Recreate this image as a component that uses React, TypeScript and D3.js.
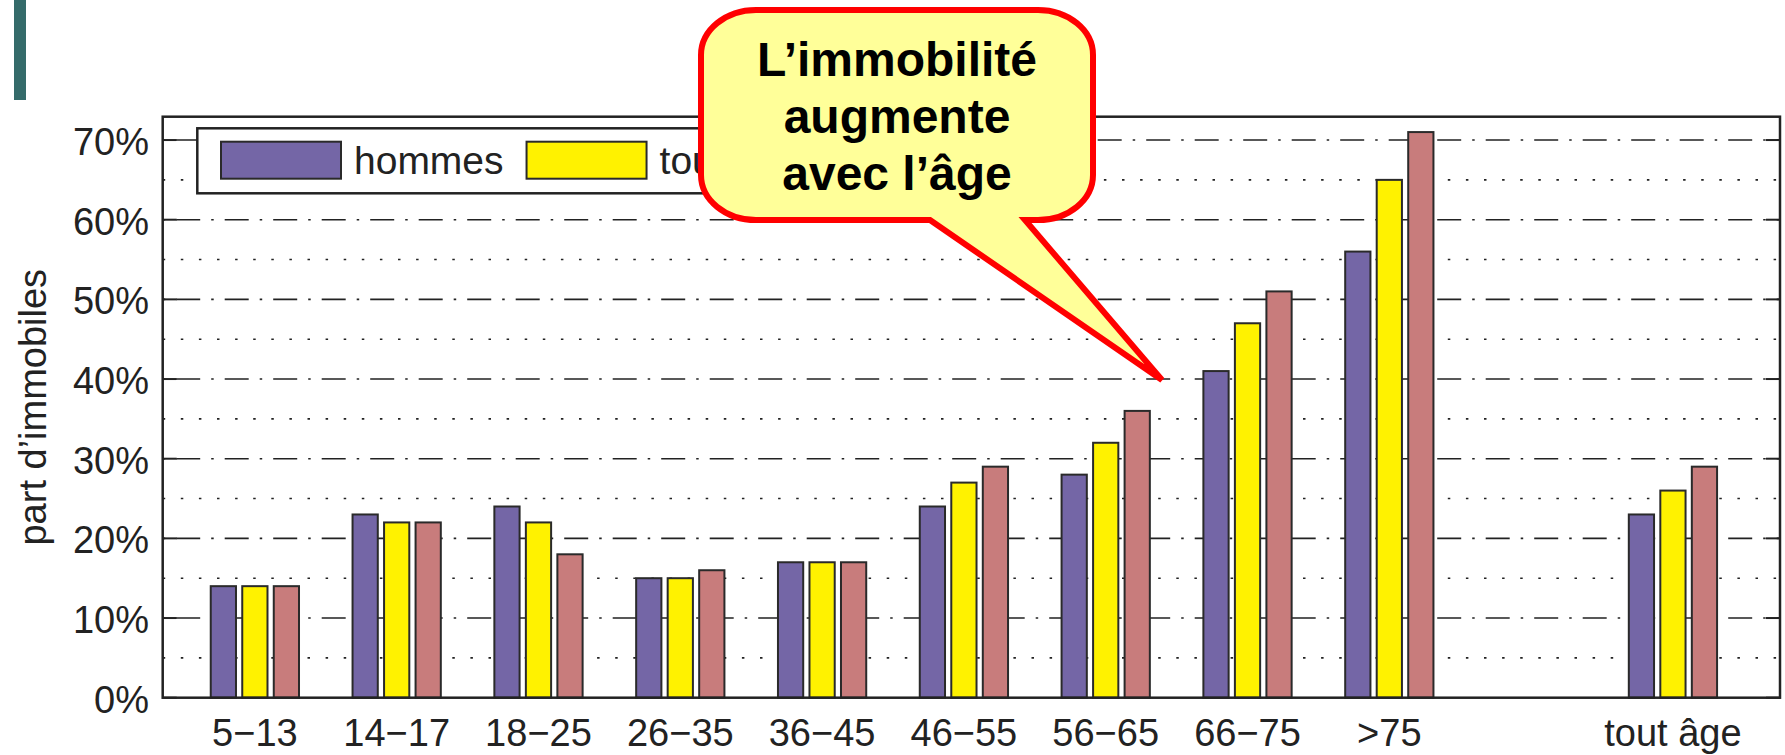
import React, { useRef, useEffect } from "react";
import * as d3 from "d3";

// données (en %)
const categories = ["5−13", "14−17", "18−25", "26−35", "36−45", "46−55", "56−65", "66−75", ">75", "tout âge"];
const positions = [1, 2, 3, 4, 5, 6, 7, 8, 9, 11];
const hommes = [14, 23, 24, 15, 17, 24, 28, 41, 56, 23];
const tous = [14, 22, 22, 15, 17, 27, 32, 47, 65, 26];
const femmes = [14, 22, 18, 16, 17, 29, 36, 51, 71, 29];
// seules les deux premières entrées de la légende sont visibles (la bulle cache le reste)
const legendNames = ["hommes", "tous"];
const yTicks = [0, 10, 20, 30, 40, 50, 60, 70];
const yMinor = [5, 15, 25, 35, 45, 55, 65];

const COLORS = ["#7466A6", "#FFF200", "#C87C7C"];
const WIDTH = 1785;
const HEIGHT = 755;
const PLOT = { left: 162.7, right: 1780, top: 116.7, bottom: 697.7 };
const FONT = "'Liberation Sans', Arial, Helvetica, sans-serif";

export default function App() {
  const svgRef = useRef<SVGSVGElement | null>(null);

  useEffect(() => {
    if (!svgRef.current) return;
    const svg = d3.select(svgRef.current);
    svg.selectAll("*").remove();

    const x = d3.scaleLinear().domain([0.35, 11.755]).range([PLOT.left, PLOT.right]);
    const y = d3.scaleLinear().domain([0, 72.93]).range([PLOT.bottom, PLOT.top]);

    svg.append("rect").attr("width", WIDTH).attr("height", HEIGHT).attr("fill", "#fff");

    // barre décorative en haut à gauche
    svg.append("rect").attr("x", 14).attr("y", 0).attr("width", 12).attr("height", 100).attr("fill", "#346B6A");

    // grille mineure (pointillés)
    svg
      .append("g")
      .selectAll("line")
      .data(yMinor)
      .join("line")
      .attr("x1", PLOT.left)
      .attr("x2", PLOT.right)
      .attr("y1", (d) => y(d))
      .attr("y2", (d) => y(d))
      .attr("stroke", "#222")
      .attr("stroke-width", 1.6)
      .attr("stroke-dasharray", "2.5,15.6");

    // grille majeure (tiret-point)
    svg
      .append("g")
      .selectAll("line")
      .data(yTicks.filter((t) => t > 0))
      .join("line")
      .attr("x1", PLOT.left)
      .attr("x2", PLOT.right)
      .attr("y1", (d) => y(d))
      .attr("y2", (d) => y(d))
      .attr("stroke", "#222")
      .attr("stroke-width", 1.6)
      .attr("stroke-dasharray", "2.5,11,24,11");

    // graduations
    const ticks = svg.append("g").attr("stroke", "#222").attr("stroke-width", 2);
    yTicks.forEach((t) => {
      ticks.append("line").attr("x1", PLOT.left).attr("x2", PLOT.left + 14).attr("y1", y(t)).attr("y2", y(t));
      ticks.append("line").attr("x1", PLOT.right).attr("x2", PLOT.right - 14).attr("y1", y(t)).attr("y2", y(t));
    });
    positions.forEach((p) => {
      ticks.append("line").attr("x1", x(p)).attr("x2", x(p)).attr("y1", PLOT.bottom).attr("y2", PLOT.bottom - 14);
    });

    // barres groupées
    const all = [hommes, tous, femmes];
    const step = 0.2222;
    const bw = 0.178;
    all.forEach((vals, s) => {
      svg
        .append("g")
        .selectAll("rect")
        .data(vals)
        .join("rect")
        .attr("x", (_, i) => x(positions[i] + (s - 1) * step - bw / 2))
        .attr("width", x(bw) - x(0))
        .attr("y", (d) => y(d))
        .attr("height", (d) => y(0) - y(d))
        .attr("fill", COLORS[s])
        .attr("stroke", "#2a2a2a")
        .attr("stroke-width", 2);
    });

    // cadre
    svg
      .append("rect")
      .attr("x", PLOT.left)
      .attr("y", PLOT.top)
      .attr("width", PLOT.right - PLOT.left)
      .attr("height", PLOT.bottom - PLOT.top)
      .attr("fill", "none")
      .attr("stroke", "#222")
      .attr("stroke-width", 2.5);

    // étiquettes Y
    svg
      .append("g")
      .selectAll("text")
      .data(yTicks)
      .join("text")
      .attr("x", 149)
      .attr("y", (d) => y(d) + 15)
      .attr("text-anchor", "end")
      .attr("font-family", FONT)
      .attr("font-size", 38)
      .attr("fill", "#222")
      .text((d) => `${d}%`);

    // étiquettes X
    svg
      .append("g")
      .selectAll("text")
      .data(categories)
      .join("text")
      .attr("x", (_, i) => x(positions[i]))
      .attr("y", 746)
      .attr("text-anchor", "middle")
      .attr("font-family", FONT)
      .attr("font-size", 38)
      .attr("fill", "#222")
      .text((d) => d);

    // titre de l'axe Y
    svg
      .append("text")
      .attr("transform", `translate(46, ${(PLOT.top + PLOT.bottom) / 2}) rotate(-90)`)
      .attr("text-anchor", "middle")
      .attr("font-family", FONT)
      .attr("font-size", 38)
      .attr("fill", "#222")
      .text("part d’immobiles");

    // légende (en partie cachée par la bulle)
    const legend = svg.append("g");
    legend
      .append("rect")
      .attr("x", 197.3)
      .attr("y", 128.3)
      .attr("width", 700)
      .attr("height", 65)
      .attr("fill", "#fff")
      .attr("stroke", "#222")
      .attr("stroke-width", 2.5);
    let lx = 221;
    legendNames.forEach((name, i) => {
      legend
        .append("rect")
        .attr("x", lx)
        .attr("y", 141.7)
        .attr("width", 120)
        .attr("height", 37)
        .attr("fill", COLORS[i])
        .attr("stroke", "#2a2a2a")
        .attr("stroke-width", 2);
      const t = legend
        .append("text")
        .attr("x", lx + 133)
        .attr("y", 174)
        .attr("font-family", FONT)
        .attr("font-size", 39)
        .attr("fill", "#222")
        .text(name);
      const w = (t.node() as SVGTextElement).getComputedTextLength();
      lx = lx + 133 + w + 23;
    });

    // bulle
    const L = 701, R = 1093, T = 10, B = 220, rx = 55, ry = 45;
    const bubble = [
      `M${L + rx},${T}`,
      `H${R - rx}`,
      `A${rx},${ry} 0 0 1 ${R},${T + ry}`,
      `V${B - ry}`,
      `A${rx},${ry} 0 0 1 ${R - rx},${B}`,
      `H1025`,
      `L1162,380`,
      `L930,${B}`,
      `H${L + rx}`,
      `A${rx},${ry} 0 0 1 ${L},${B - ry}`,
      `V${T + ry}`,
      `A${rx},${ry} 0 0 1 ${L + rx},${T}`,
      "Z",
    ].join(" ");
    svg
      .append("path")
      .attr("d", bubble)
      .attr("fill", "#FFFF99")
      .attr("stroke", "#FF0000")
      .attr("stroke-width", 6)
      .attr("stroke-linejoin", "miter");

    const lines = ["L’immobilité", "augmente", "avec l’âge"];
    svg
      .append("g")
      .selectAll("text")
      .data(lines)
      .join("text")
      .attr("x", 897)
      .attr("y", (_, i) => 76 + i * 57)
      .attr("text-anchor", "middle")
      .attr("font-family", FONT)
      .attr("font-weight", "bold")
      .attr("font-size", 48)
      .attr("fill", "#000")
      .text((d) => d);
  }, []);

  return (
    <div style={{ position: "absolute", left: 0, top: 0, width: WIDTH, height: HEIGHT }}>
      <svg ref={svgRef} width={WIDTH} height={HEIGHT} style={{ display: "block" }} />
    </div>
  );
}
